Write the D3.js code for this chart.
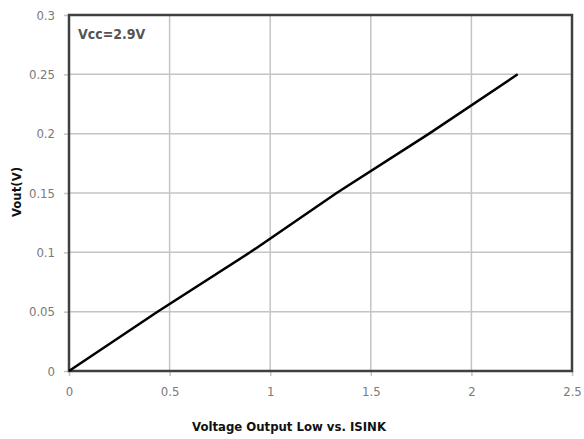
<!DOCTYPE html>
<meta charset="utf-8">
<style>
body { margin: 0; background: #fff; }
.tick text { font-family: "DejaVu Sans Condensed", "Liberation Sans Narrow", sans-serif; font-stretch: condensed; font-size: 13px; fill: #7a7a7a; }
.grid line { stroke: #c4c4c4; stroke-width: 1.5; }
.axisTitle { font-family: "DejaVu Sans Condensed", Arial, sans-serif; font-stretch: condensed; font-weight: bold; font-size: 13px; fill: #111; }
</style>
<div id="chart"></div>
<script src="https://cdn.jsdelivr.net/npm/d3@7/dist/d3.min.js"></script>
<script>

// current sink (mA) vs output low voltage (V)
var isink = [0, 0.44, 0.9, 1.33, 1.79, 2.23];
var vout  = [0, 0.05, 0.1, 0.15, 0.2, 0.25];
var xTicks = [0, 0.5, 1, 1.5, 2, 2.5];
var yTicks = [0, 0.05, 0.1, 0.15, 0.2, 0.25, 0.3];

var width = 584, height = 439
  , margin = {top: 15, left: 69, bottom: 68, right: 12};

var svg = d3.select("#chart").append("svg")
    .attr("width", width)
    .attr("height", height);

var x = d3.scaleLinear().domain([0, 2.5]).range([margin.left, width - margin.right]);
var y = d3.scaleLinear().domain([0, 0.3]).range([height - margin.bottom, margin.top]);

// gridlines
svg.append("g").attr("class", "grid")
  .selectAll("line.v").data(xTicks.slice(1, -1))
  .enter().append("line")
    .attr("x1", function(d){ return x(d) }).attr("x2", function(d){ return x(d) })
    .attr("y1", y(0)).attr("y2", y(0.3));
svg.append("g").attr("class", "grid")
  .selectAll("line.h").data(yTicks.slice(1, -1))
  .enter().append("line")
    .attr("y1", function(d){ return y(d) }).attr("y2", function(d){ return y(d) })
    .attr("x1", x(0)).attr("x2", x(2.5));

// axes
var xAxis = svg.append("g")
    .attr("transform", "translate(0," + y(0) + ")")
    .call(d3.axisBottom(x).tickValues(xTicks).tickFormat(d3.format("")).tickSize(5).tickPadding(11));
var yAxis = svg.append("g")
    .attr("transform", "translate(" + x(0) + ",0)")
    .call(d3.axisLeft(y).tickValues(yTicks).tickFormat(d3.format("")).tickSize(5).tickPadding(9));
[xAxis, yAxis].forEach(function(a){
  a.select(".domain").remove();
  a.selectAll(".tick line").attr("stroke", "#c4c4c4").attr("stroke-width", 1.5);
});

// frame
svg.append("rect")
    .attr("x", x(0)).attr("y", y(0.3))
    .attr("width", x(2.5) - x(0)).attr("height", y(0) - y(0.3))
    .attr("fill", "none").attr("stroke", "#404040").attr("stroke-width", 2.5);

// data line
var line = d3.line()
    .x(function(d, i){ return x(isink[i]) })
    .y(function(d){ return y(d) });
svg.append("path")
    .datum(vout)
    .attr("d", line)
    .attr("fill", "none")
    .attr("stroke", "#000")
    .attr("stroke-width", 2.5);

// labels
svg.append("text")
    .attr("x", x(0) + 9).attr("y", 39)
    .style("font-family", "'DejaVu Sans Condensed', sans-serif")
    .style("font-stretch", "condensed")
    .style("font-size", "14px").style("font-weight", "bold").style("fill", "#555")
    .text("Vcc=2.9V");

svg.append("text").attr("class", "axisTitle")
    .attr("x", 289).attr("y", 431)
    .attr("text-anchor", "middle")
    .text("Voltage Output Low vs. ISINK");

svg.append("text").attr("class", "axisTitle")
    .attr("transform", "translate(21,192) rotate(-90)")
    .attr("text-anchor", "middle")
    .text("Vout(V)");

</script>
